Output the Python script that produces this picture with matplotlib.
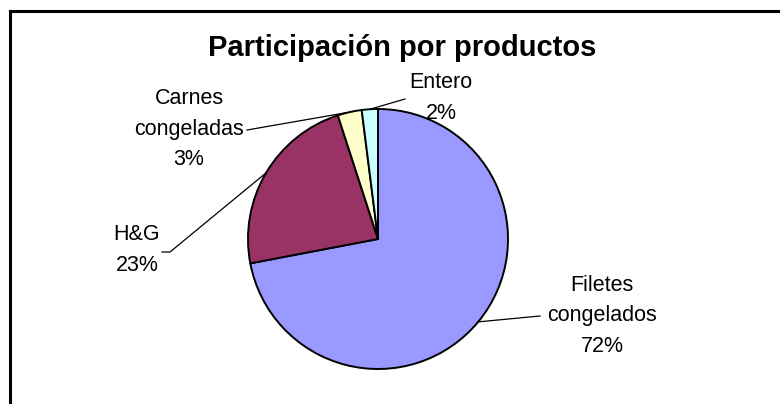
import numpy as np
import matplotlib
matplotlib.use('Agg')
import matplotlib.pyplot as plt
from matplotlib.patches import Rectangle

plt.rcParams['font.family'] = ['Liberation Sans', 'DejaVu Sans']

productos = ["Filetes\ncongelados", "H&G", "Carnes\ncongeladas", "Entero"]
porcentajes = [72, 23, 3, 2]
colores = ['#9999FF', '#993366', '#FFFFCC', '#CCFFFF']

# posiciones de las etiquetas (pixeles de la imagen, y hacia abajo)
pos_etiqueta = [(602, 316), (137, 250), (189, 129), (441, 98)]
# punto donde empieza la linea guia junto al texto
pos_guia = [[(540, 316)], [(162, 252), (170, 252)], [(247, 130)], [(405, 99)]]

W, H = 780, 404
fig = plt.figure(figsize=(W / 100, H / 100), dpi=100)
ax = fig.add_axes([0, 0, 1, 1])

cx, cy, r = 378, H - 239, 130

wedges, _ = ax.pie(porcentajes, colors=colores, startangle=90, counterclock=False,
                   center=(cx, cy), radius=r,
                   wedgeprops=dict(edgecolor='black', linewidth=1.4))

ax.set_xlim(0, W)
ax.set_ylim(0, H)
ax.set_aspect('equal')
ax.axis('off')

for w, nombre, p, (lx, ly), guia in zip(wedges, productos, porcentajes, pos_etiqueta, pos_guia):
    ang = np.deg2rad((w.theta1 + w.theta2) / 2)
    ex, ey = cx + r * np.cos(ang), cy + r * np.sin(ang)
    xs = [g[0] for g in guia] + [ex]
    ys = [H - g[1] for g in guia] + [ey]
    ax.plot(xs, ys, color='black', linewidth=0.9)
    ax.text(lx, H - ly, f"{nombre}\n{p}%", ha='center', va='center',
            fontsize=15.5, linespacing=1.6)

ax.text(402, H - 48, "Participación por productos", ha='center', va='center',
        fontsize=21, fontweight='bold')

# marco del grafico
ax.add_patch(Rectangle((10, -10), W + 20, H - 11 + 10, fill=False,
                       edgecolor='black', linewidth=2.2, clip_on=False))

fig.savefig('out.png', dpi=100)
